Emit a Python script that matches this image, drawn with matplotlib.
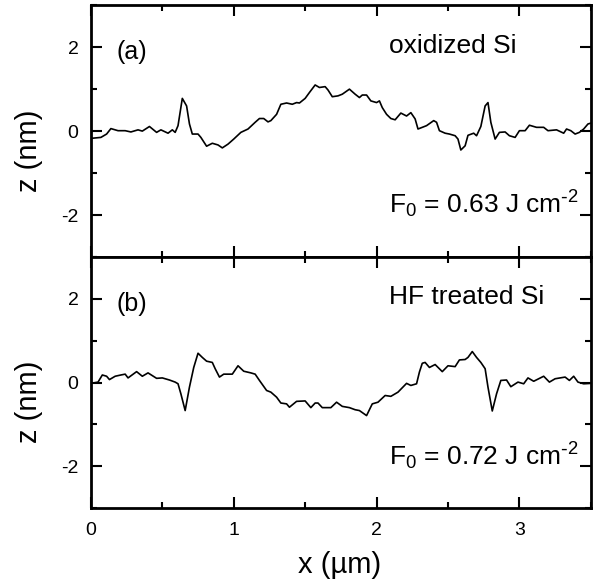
import matplotlib
matplotlib.use('Agg')
import matplotlib.pyplot as plt
from matplotlib.ticker import MultipleLocator

plt.rcParams['font.family'] = ['Liberation Sans', 'DejaVu Sans']
plt.rcParams['mathtext.default'] = 'regular'
plt.rcParams['axes.unicode_minus'] = False

# top panel: oxidized Si profile
x_a = [0.00, 0.01, 0.07, 0.11, 0.14, 0.19, 0.24, 0.28, 0.33, 0.36, 0.41, 0.46, 0.49, 0.54,
       0.57, 0.59, 0.61, 0.64, 0.67, 0.69, 0.71, 0.75, 0.77, 0.81, 0.85, 0.89, 0.92, 0.96,
       1.00, 1.05, 1.10, 1.15, 1.18, 1.21, 1.24, 1.26, 1.30, 1.33, 1.37, 1.41, 1.44, 1.46,
       1.50, 1.53, 1.57, 1.60, 1.64, 1.66, 1.69, 1.73, 1.76, 1.81, 1.85, 1.88, 1.90, 1.93,
       1.96, 2.00, 2.02, 2.04, 2.07, 2.10, 2.13, 2.17, 2.21, 2.24, 2.27, 2.29, 2.32, 2.35,
       2.40, 2.42, 2.44, 2.48, 2.51, 2.55, 2.57, 2.59, 2.62, 2.64, 2.68, 2.70, 2.73, 2.76,
       2.78, 2.80, 2.83, 2.86, 2.90, 2.93, 2.97, 3.00, 3.04, 3.07, 3.12, 3.17, 3.20, 3.26,
       3.31, 3.33, 3.36, 3.39, 3.42, 3.45, 3.48, 3.50]
z_a = [-0.17, -0.17, -0.15, -0.07, 0.06, 0.01, 0.01, -0.02, 0.03, 0.00, 0.11, -0.03, 0.03, -0.05,
       0.03, -0.03, 0.13, 0.78, 0.60, 0.17, -0.07, -0.07, -0.15, -0.36, -0.29, -0.33, -0.40, -0.31,
       -0.19, -0.03, 0.05, 0.21, 0.30, 0.30, 0.22, 0.25, 0.40, 0.64, 0.67, 0.64, 0.68, 0.67,
       0.78, 0.92, 1.10, 1.04, 1.06, 0.98, 0.82, 0.84, 0.88, 1.00, 0.88, 0.80, 0.86, 0.86,
       0.72, 0.68, 0.72, 0.56, 0.40, 0.30, 0.27, 0.43, 0.36, 0.44, 0.29, 0.05, 0.09, 0.13,
       0.25, 0.21, 0.01, -0.05, -0.07, -0.11, -0.19, -0.45, -0.35, -0.10, -0.05, -0.11, 0.11, 0.60,
       0.68, 0.21, -0.19, -0.03, -0.02, -0.11, -0.15, 0.01, 0.01, 0.14, 0.09, 0.09, 0.01, 0.03,
       -0.05, 0.05, 0.01, -0.07, -0.03, 0.05, 0.17, 0.19]

# bottom panel: HF treated Si profile
x_b = [0.00, 0.05, 0.08, 0.11, 0.13, 0.17, 0.21, 0.24, 0.26, 0.32, 0.36, 0.40, 0.46, 0.50,
       0.55, 0.59, 0.61, 0.63, 0.66, 0.69, 0.72, 0.75, 0.78, 0.81, 0.85, 0.87, 0.90, 0.93,
       0.99, 1.03, 1.07, 1.12, 1.15, 1.18, 1.23, 1.26, 1.30, 1.33, 1.37, 1.39, 1.44, 1.50,
       1.54, 1.57, 1.59, 1.62, 1.68, 1.72, 1.76, 1.81, 1.85, 1.88, 1.93, 1.97, 2.01, 2.06,
       2.10, 2.15, 2.21, 2.24, 2.28, 2.30, 2.32, 2.34, 2.37, 2.41, 2.46, 2.50, 2.55, 2.58,
       2.62, 2.64, 2.67, 2.70, 2.73, 2.76, 2.78, 2.81, 2.84, 2.87, 2.91, 2.94, 2.99, 3.03,
       3.06, 3.10, 3.17, 3.21, 3.25, 3.32, 3.35, 3.38, 3.41, 3.45, 3.50]
z_b = [-0.02, 0.01, 0.18, 0.15, 0.07, 0.15, 0.18, 0.20, 0.11, 0.26, 0.15, 0.23, 0.10, 0.11,
       0.06, 0.01, -0.03, -0.27, -0.67, -0.11, 0.36, 0.70, 0.60, 0.51, 0.48, 0.33, 0.13, 0.20,
       0.20, 0.40, 0.27, 0.23, 0.20, 0.05, -0.19, -0.23, -0.35, -0.49, -0.51, -0.59, -0.45, -0.44,
       -0.60, -0.49, -0.49, -0.60, -0.60, -0.47, -0.57, -0.60, -0.65, -0.67, -0.79, -0.51, -0.47, -0.31,
       -0.33, -0.23, -0.02, -0.07, -0.03, 0.25, 0.46, 0.48, 0.36, 0.43, 0.26, 0.40, 0.38, 0.54,
       0.55, 0.60, 0.74, 0.60, 0.48, 0.33, -0.11, -0.68, -0.27, 0.05, 0.06, -0.10, 0.01, -0.03,
       0.11, 0.03, 0.15, 0.01, 0.09, 0.13, 0.05, 0.15, 0.01, -0.03, -0.02]

labels = ['(a)', '(b)']
samples = ['oxidized Si', 'HF treated Si']
fluences = ['0.63', '0.72']

fig = plt.figure(figsize=(5.98, 5.84), dpi=100)
ax1 = fig.add_axes([0.152, 0.560, 0.836, 0.431])
ax2 = fig.add_axes([0.152, 0.130, 0.836, 0.430], sharex=ax1)

for ax, xs, zs, lbl, smp, f0 in zip([ax1, ax2], [x_a, x_b], [z_a, z_b], labels, samples, fluences):
    ax.plot(xs, zs, color='black', lw=1.2)
    ax.set_xlim(0, 3.5); ax.set_ylim(-3, 3)
    ax.xaxis.set_major_locator(MultipleLocator(1)); ax.xaxis.set_minor_locator(MultipleLocator(0.5))
    ax.yaxis.set_major_locator(MultipleLocator(2)); ax.yaxis.set_minor_locator(MultipleLocator(1))
    ax.tick_params(which='both', direction='in', top=True, right=True, width=1.5, labelsize=14)
    ax.tick_params(which='major', length=8)
    ax.tick_params(which='minor', length=4.5)
    ax.tick_params(axis='y', pad=9)
    ax.tick_params(axis='x', pad=10)
    for s in ax.spines.values():
        s.set_linewidth(2)
    ax.text(0.18, 1.72, lbl, fontsize=18, va='baseline', ha='left')
    ax.text(2.09, 1.87, smp, fontsize=19, va='baseline', ha='left')
    ax.text(2.09, -1.97, r'F$_0$ = ' + f0 + r' J cm$^{\text{-}2}$', fontsize=19, va='baseline', ha='left')

ax1.tick_params(axis='x', labelbottom=False)

fig.text(29/598, 1 - 151/584, 'z (nm)', rotation=90, ha='center', va='center', fontsize=21)
fig.text(29/598, 1 - 402/584, 'z (nm)', rotation=90, ha='center', va='center', fontsize=21)
fig.text(340/598, 1 - 565/584, 'x (µm)', ha='center', va='center', fontsize=21)

fig.savefig('out.png', dpi=100)
plt.close()
